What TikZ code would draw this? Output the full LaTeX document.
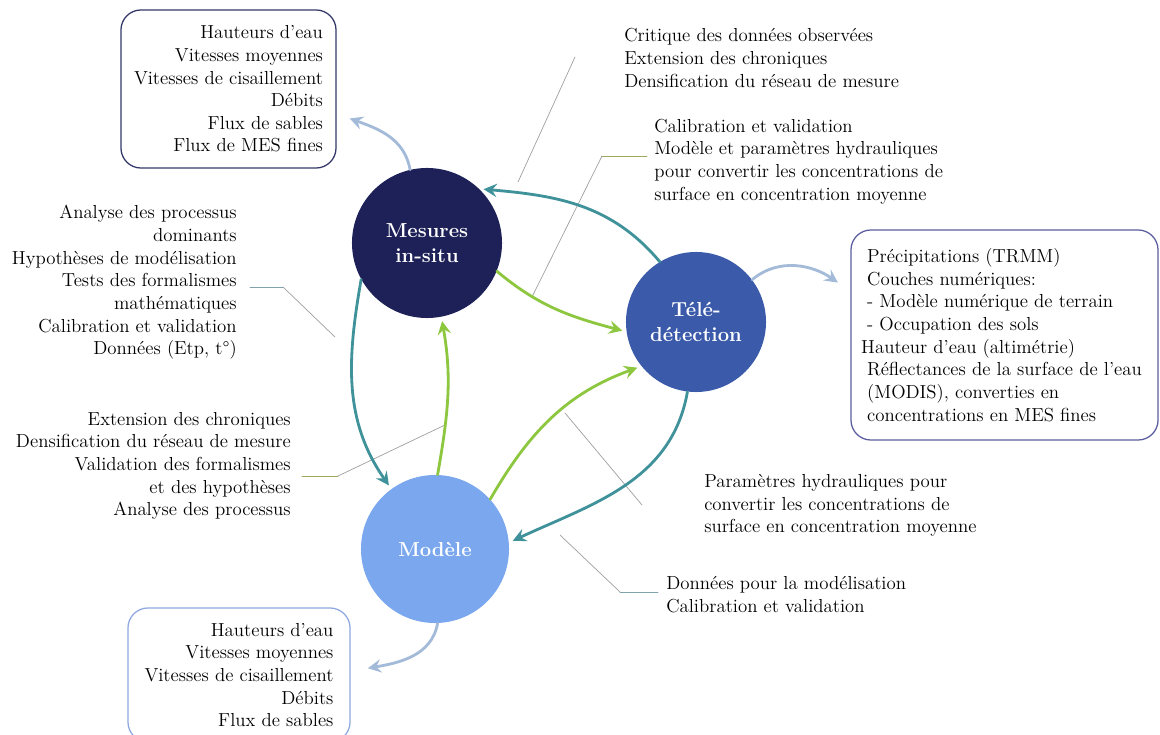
\documentclass[tikz,border=0pt]{standalone}
\usetikzlibrary{arrows.meta}

\definecolor{navy}{HTML}{1D2157}
\definecolor{royal}{HTML}{3B5BAA}
\definecolor{sky}{HTML}{7BA7EE}
\definecolor{tealarr}{HTML}{3F929A}
\definecolor{greenarr}{HTML}{8DC73F}
\definecolor{palearr}{HTML}{A3BAD8}
\definecolor{oliveline}{HTML}{9AAA5A}
\definecolor{tealline}{HTML}{7FA3AA}
\definecolor{boxblue}{HTML}{5A5E9E}
\definecolor{boxsky}{HTML}{8FA8E0}

\begin{document}
\begin{tikzpicture}[x=0.025cm,y=-0.025cm,line cap=round,line join=round,
    etape/.style={circle,inner sep=0pt,text=white,align=center,font=\fontsize{14.4}{18}\selectfont\bfseries},
    cadre/.style={draw,rounded corners=0.5cm,line width=0.9pt,inner sep=0pt,font=\fontsize{13.4}{16.1}\selectfont},
    texte/.style={inner sep=0pt,font=\fontsize{13.4}{16.1}\selectfont},
    fleche/.style={line width=2pt,-{Stealth[length=9.5pt,width=9.5pt,inset=3.5pt]},shorten >=3pt},
    renvoi/.style={gray!75,line width=0.5pt}]

    \useasboundingbox (0,0) rectangle (1160,735);

    % the three steps
    \node[etape,fill=navy,minimum size=3.75cm] (mesures) at (427,243) {Mesures\\in-situ};
    \node[etape,fill=royal,minimum size=3.5cm] (tele) at (696,322) {Télé-\\détection};
    \node[etape,fill=sky,minimum size=3.7cm] (modele) at (435,549) {Modèle};

    % outputs of each step
    \node[cadre,draw=navy!90,align=right,minimum width=5.375cm,minimum height=3.95cm] (boxmesures) at (228.5,89)
        {Hauteurs d’eau\\Vitesses moyennes\\Vitesses de cisaillement\\Débits\\Flux de sables\\Flux de MES fines};
    \node[cadre,draw=boxblue,align=left,minimum width=7.675cm,minimum height=5.25cm] (boxtele) at (1004.5,335)
        {Précipitations (TRMM)\\Couches numériques:\\- Modèle numérique de terrain\\- Occupation des sols\\\hspace*{-0.15cm}Hauteur d’eau (altimétrie)\\Réflectances de la surface de l’eau\\(MODIS), converties en\\concentrations en MES fines};
    \node[cadre,draw=boxsky,align=right,minimum width=5.55cm,minimum height=3.35cm] (boxmodele) at (239,675)
        {Hauteurs d’eau\\Vitesses moyennes\\Vitesses de cisaillement\\Débits\\Flux de sables};

    % exchanges between steps
    \node[texte,align=left,anchor=west] (txtcritique) at (624,58)
        {Critique des données observées\\Extension des chroniques\\Densification du réseau de mesure};
    \node[texte,align=left,anchor=west] (txtcalibration) at (654,161.5)
        {Calibration et validation\\Modèle et paramètres hydrauliques\\pour convertir les concentrations de\\surface en concentration moyenne};
    \node[texte,align=right,anchor=east] (txtanalyse) at (237,282.5)
        {Analyse des processus\\dominants\\Hypothèses de modélisation\\Tests des formalismes\\mathématiques\\Calibration et validation\\Données (Etp, t°)};
    \node[texte,align=right,anchor=east] (txtextension) at (291,466)
        {Extension des chroniques\\Densification du réseau de mesure\\Validation des formalismes\\et des hypothèses\\Analyse des processus};
    \node[texte,align=left,anchor=west] (txtparametres) at (704,505.5)
        {Paramètres hydrauliques pour\\convertir les concentrations de\\surface en concentration moyenne};
    \node[texte,align=left,anchor=west] (txtdonnees) at (666,594.5)
        {Données pour la modélisation\\Calibration et validation};

    % callout lines
    \coordinate (critA) at (575,57);
    \coordinate (critB) at (518,182);
    \coordinate (calA) at (647,156);
    \coordinate (calB) at (602,156);
    \coordinate (calC) at (532,297);
    \coordinate (anaA) at (250,287);
    \coordinate (anaB) at (283,287);
    \coordinate (anaC) at (335,337);
    \coordinate (extA) at (302,476);
    \coordinate (extB) at (338,476);
    \coordinate (extC) at (445,425);
    \coordinate (parA) at (565,413);
    \coordinate (parB) at (642,505);
    \coordinate (donA) at (658,592);
    \coordinate (donB) at (620,592);
    \coordinate (donC) at (560,535);

    \draw[renvoi] (critA) -- (critB);
    \draw[renvoi,oliveline] (calA) -- (calB);
    \draw[renvoi] (calB) -- (calC);
    \draw[renvoi,tealline] (anaA) -- (anaB);
    \draw[renvoi] (anaB) -- (anaC);
    \draw[renvoi,oliveline] (extA) -- (extB);
    \draw[renvoi] (extB) -- (extC);
    \draw[renvoi] (parA) -- (parB);
    \draw[renvoi,tealline] (donA) -- (donB);
    \draw[renvoi] (donB) -- (donC);

    % arrows to the boxes
    \draw[fleche,palearr] (mesures.103) to[out=100,in=-20] ([shift={(9,28)}]boxmesures.east);
    \draw[fleche,palearr] (tele.37) to[out=40,in=145] ([shift={(-9,-50)}]boxtele.west);
    \draw[fleche,palearr] (modele.-88) to[out=-100,in=10] ([shift={(13,-6)}]boxmodele.east);

    % arrows between steps
    \draw[fleche,tealarr] (tele.121) to[out=130,in=-5] (mesures.46);
    \draw[fleche,greenarr] (mesures.-22) to[out=-40,in=165] (tele.188);
    \draw[fleche,greenarr] (modele.42) to[out=60,in=200] (tele.219);
    \draw[fleche,tealarr] (tele.263) to[out=-100,in=25] (modele.5);
    \draw[fleche,tealarr] (mesures.209) to[out=-100,in=125] (modele.126);
    \draw[fleche,greenarr] (modele.88) to[out=80,in=-80] (mesures.-79);

\end{tikzpicture}
\end{document}
